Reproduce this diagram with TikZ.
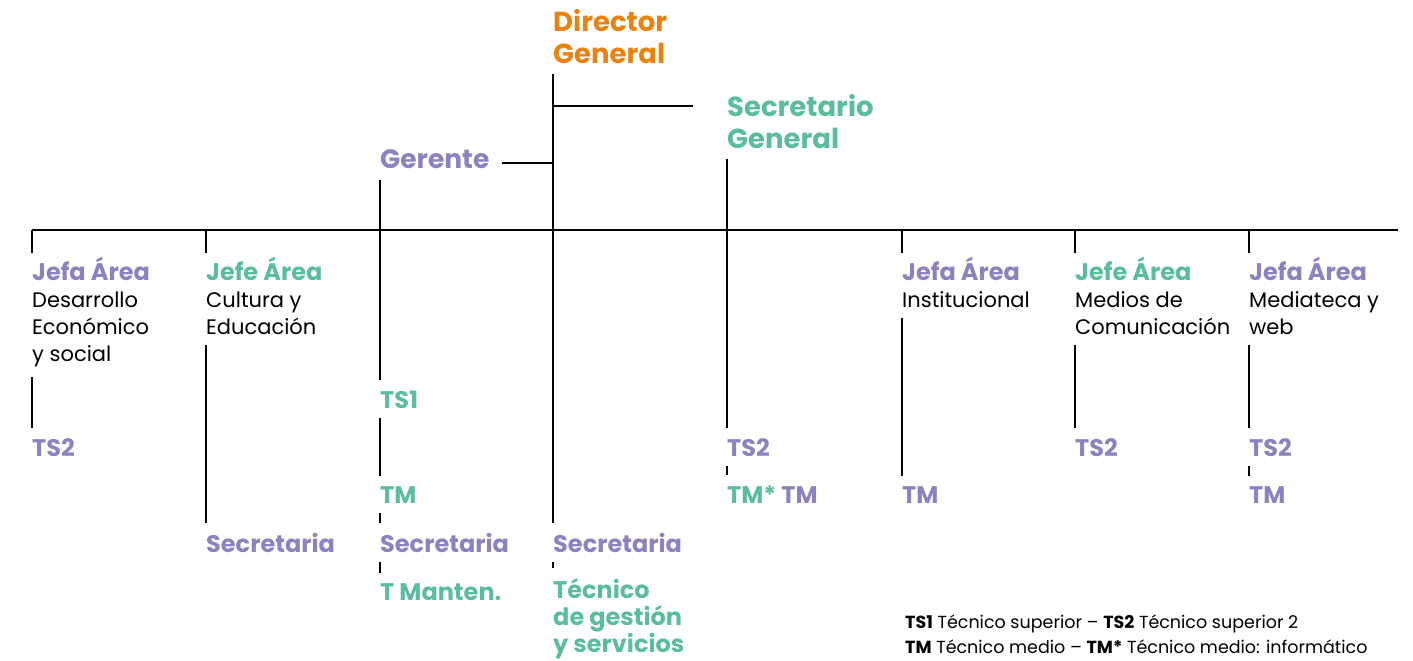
\documentclass[tikz,border=0pt]{standalone}
\usepackage{fontspec}
\setmainfont{Poppins}
\usepackage{tikz}

\definecolor{naranja}{HTML}{E9820F}
\definecolor{lila}{HTML}{8C82BF}
\definecolor{verde}{HTML}{5BBD9F}

\tikzset{
  linea/.style={line width=2.4pt,black},
  salto/.style={linea,shorten <=10pt,shorten >=10pt},
  cargo/.style={inner sep=0pt,anchor=base west,font=\fontsize{24}{27}\selectfont\bfseries},
  bloque/.style={inner sep=0pt,anchor=north west,align=left,font=\fontsize{21}{27}\selectfont},
  jefe/.style={inner sep=0pt,anchor=north west,align=left,font=\fontsize{27.5}{32}\selectfont\bfseries},
}
\newcommand{\titulo}[2]{{\fontsize{24}{27}\selectfont\bfseries\color{#1}#2}}

\begin{document}
\begin{tikzpicture}[x=1pt,y=-1pt]
    \useasboundingbox (0,0) rectangle (1413,661);

    % cabecera
    \node[jefe,naranja] (dir) at (553,9) {Director\\General};
    \node[jefe,verde] (sec) at (727,94) {Secretario\\General};
    \node[cargo,font=\fontsize{26.5}{32}\selectfont\bfseries,lila] (ger) at (380,168) {Gerente};

    \coordinate (izq) at (32,230);
    \coordinate (der) at (1398,230);
    \coordinate (secfin) at (693,106);
    \coordinate (gerfin) at (380,180);
    \draw[linea] (izq)--(der);
    \draw[linea] (553,106)--(secfin);
    \draw[linea] (ger.base east) ++(12,-5) -- (553,163);

    % areas
    \node[bloque] (a1) at (32,257) {\titulo{lila}{Jefa Área}\\Desarrollo\\Económico\\y social};
    \node[bloque] (a2) at (206,257) {\titulo{verde}{Jefe Área}\\Cultura y\\Educación};
    \node[bloque] (a6) at (902,257) {\titulo{lila}{Jefa Área}\\Institucional};
    \node[bloque] (a7) at (1075,257) {\titulo{verde}{Jefe Área}\\Medios de\\Comunicación};
    \node[bloque] (a8) at (1249,257) {\titulo{lila}{Jefa Área}\\Mediateca y\\web};

    \foreach \n/\x in {a1/32,a2/206,a6/902,a7/1075,a8/1249}
        \draw[linea,shorten >=4pt] (\x,230)--(\n.north west);

    % puestos
    \node[cargo,lila] (ts2a) at (32,456) {TS2};
    \node[cargo,lila] (sec2) at (206,552) {Secretaria};
    \node[cargo,verde] (ts1) at (380,408) {TS1};
    \node[cargo,verde] (tm3) at (380,503) {TM};
    \node[cargo,lila] (sec3) at (380,552) {Secretaria};
    \node[cargo,verde] (tman) at (380,600) {T Manten.};
    \node[cargo,lila] (sec4) at (553,552) {Secretaria};
    \node[bloque,font=\fontsize{24}{27}\selectfont\bfseries,verde] (tges) at (553,578) {Técnico\\de gestión\\y servicios};
    \node[cargo,lila] (ts2e) at (727,456) {TS2};
    \node[cargo] (tm5) at (727,503) {\textcolor{verde}{TM*}\ \textcolor{lila}{TM}};
    \node[cargo,lila] (tm6) at (902,503) {TM};
    \node[cargo,lila] (ts2g) at (1075,456) {TS2};
    \node[cargo,lila] (ts2h) at (1249,456) {TS2};
    \node[cargo,lila] (tm8) at (1249,503) {TM};

    \draw[salto] (a1.south west)--(ts2a.north west);
    \draw[salto] (a2.south west)--(sec2.north west);
    \draw[salto,shorten <=0pt] (gerfin)--(ts1.north west);
    \draw[salto] (ts1.south west)--(tm3.north west);
    \draw[salto] (tm3.south west)--(sec3.north west);
    \draw[salto] (sec3.south west)--(tman.north west);
    \draw[salto] (dir.south west)--(sec4.north west);
    \draw[salto] (sec4.south west)--(tges.north west);
    \draw[salto] (sec.south west)--(ts2e.north west);
    \draw[salto] (ts2e.south west)--(tm5.north west);
    \draw[salto] (a6.south west)--(tm6.north west);
    \draw[salto] (a7.south west)--(ts2g.north west);
    \draw[salto] (a8.south west)--(ts2h.north west);
    \draw[salto] (ts2h.south west)--(tm8.north west);

    % leyenda
    \node[bloque,font=\fontsize{17.5}{25}\selectfont] (ley) at (905,615)
        {\textbf{TS1} Técnico superior -- \textbf{TS2} Técnico superior 2\\
         \textbf{TM} Técnico medio -- \textbf{TM*} Técnico medio: informático};
\end{tikzpicture}
\end{document}
